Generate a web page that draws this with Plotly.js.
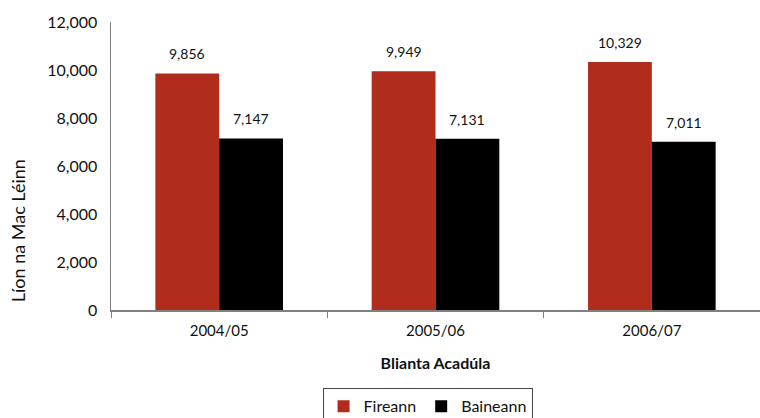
<!DOCTYPE html>
<html>
<head>
<meta charset="utf-8">
<script src="https://cdn.plot.ly/plotly-3.0.1.min.js"></script>
<style>html,body{margin:0;padding:0;background:#fff;}#chart{width:760px;height:418px;}</style>
</head>
<body>
<div id="chart"></div>
<script>
const categories = ["2004/05", "2005/06", "2006/07"];
const fireann = [9856, 9949, 10329];
const baineann = [7147, 7131, 7011];
const seriesNames = ["Fireann", "Baineann"];
const yTicks = [0, 2000, 4000, 6000, 8000, 10000, 12000];
const xTitle = "Blianta Acadúla";
const yTitle = "Líon na Mac Léinn";

const font = "Lato, 'Noto Sans', sans-serif";
const fmt = v => v.toLocaleString('en-US');
const bargap = 0.41;
const half = (1 - bargap) / 4;

const traces = [
  {type: 'bar', name: seriesNames[0], x: categories, y: fireann,
   marker: {color: '#B02C1D'}, hoverinfo: 'x+y'},
  {type: 'bar', name: seriesNames[1], x: categories, y: baineann,
   marker: {color: '#000000'}, hoverinfo: 'x+y'}
];

const annotations = [];
[fireann, baineann].forEach((vals, si) => {
  vals.forEach((v, i) => {
    annotations.push({x: i + (si === 0 ? -half : half), y: v, xref: 'x', yref: 'y',
      text: fmt(v), showarrow: false, yanchor: 'bottom', yshift: 9,
      font: {size: 14, color: '#111', family: font}});
  });
});
annotations.push({text: yTitle, textangle: -90, xref: 'paper', yref: 'paper',
  x: -0.143, y: 0.274, xanchor: 'center', yanchor: 'middle', showarrow: false,
  font: {size: 18, color: '#111', family: font}});

const layout = {
  width: 760, height: 418,
  margin: {l: 111, r: 0, t: 22, b: 108, autoexpand: false},
  paper_bgcolor: '#fff', plot_bgcolor: '#fff',
  font: {family: font, size: 15, color: '#111'},
  barmode: 'group', bargap: bargap, bargroupgap: 0,
  showlegend: true,
  annotations: annotations,
  legend: {orientation: 'h', x: 0.326, xanchor: 'left', y: -0.272, yanchor: 'top',
           bordercolor: '#444', borderwidth: 1, font: {size: 16, color: '#111'},
           traceorder: 'normal', itemwidth: 30, tracegroupgap: 0},
  xaxis: {
    showline: true, linecolor: '#808080', linewidth: 1.5,
    ticks: 'outside', ticklen: 6, tickcolor: '#808080', tickson: 'boundaries',
    tickfont: {size: 15, color: '#111'}, ticklabelstandoff: 6,
    title: {text: '<b>' + xTitle + '</b>', font: {size: 16, color: '#111'}, standoff: 20},
    showgrid: false, zeroline: false
  },
  yaxis: {
    range: [0, 12000], tickvals: yTicks, ticktext: yTicks.map(fmt),
    showline: true, linecolor: '#808080', linewidth: 1.5,
    ticks: '', tickfont: {size: 16, color: '#111'}, ticklabelstandoff: 9,
    showgrid: false, zeroline: false
  }
};

Plotly.newPlot('chart', traces, layout, {displayModeBar: false, staticPlot: true});
</script>
</body>
</html>
